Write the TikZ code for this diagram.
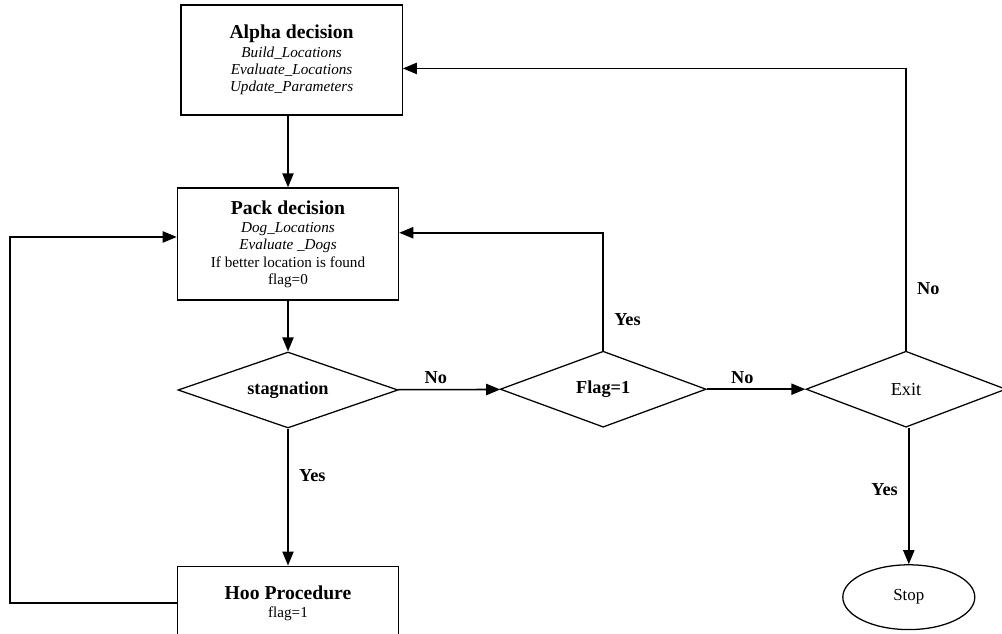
\documentclass[tikz,border=0pt]{standalone}
\usepackage{fontspec}
\setmainfont{Liberation Serif}
\usepackage{tikz}
\usetikzlibrary{shapes.geometric, arrows.meta, positioning, calc}

\begin{document}
\begin{tikzpicture}[
  box/.style={draw, line width=0.9pt, minimum width=5.53cm, minimum height=2.75cm, align=center, font=\fontsize{10.8}{12.2}\selectfont},
  dec/.style={draw, line width=0.9pt, diamond, aspect=3, inner sep=0pt, minimum width=5.5cm, minimum height=1.9cm, font=\fontsize{13}{15}\selectfont\bfseries},
  flow/.style={line width=1.1pt, -{Triangle[length=10pt, width=8pt]}},
  lbl/.style={font=\fontsize{13}{15}\selectfont\bfseries},
]
  \clip (0,0) rectangle (25.05,-15.85);

  \node[box] (alpha) at (7.29,-1.5) {{\fontsize{14}{16}\selectfont\bfseries Alpha decision}\\[1pt]
    \textit{Build\_Locations}\\ \textit{Evaluate\_Locations}\\ \textit{Update\_Parameters}};
  \node[box, minimum height=2.8cm] (pack) at (7.2,-6.1) {{\fontsize{14}{16}\selectfont\bfseries Pack decision}\\[1pt]
    \textit{Dog\_Locations}\\ \textit{Evaluate \_Dogs}\\ If better location is found\\ flag=0};

  \node[dec] (stag) at (7.2,-9.75) {stagnation};
  \node[dec, minimum width=5.15cm] (flag) at (15.08,-9.73) {Flag=1};
  \node[dec, minimum width=5.0cm, font=\fontsize{13}{15}\selectfont] (exit) at (22.65,-9.73) {Exit};

  \node[box, minimum height=1.85cm] (hoo) at (7.2,-15.08) {{\fontsize{14}{16}\selectfont\bfseries Hoo Procedure}\\[1pt] flag=1};
  \node[draw, line width=0.9pt, ellipse, minimum width=3.3cm, minimum height=1.62cm, font=\fontsize{12}{14}\selectfont] (stop) at (22.72,-14.93) {Stop};

  \coordinate (lft) at (0.25,-15.08);

  \draw[flow] (alpha.south -| pack.north) -- (pack);
  \draw[flow] (pack) -- (stag);
  \draw[flow] (stag) -- (flag) node[lbl, pos=0.37, above] {No};
  \draw[flow] (flag) -- (exit) node[lbl, pos=0.36, above] {No};
  \draw[flow] (stag) -- (hoo) node[lbl, pos=0.34, right=4pt] {Yes};
  \draw[flow] (exit.south -| stop.north) -- (stop) node[lbl, pos=0.45, left=4pt] {Yes};
  \draw[flow] (flag.north) |- ([yshift=8pt]pack.east) node[lbl, pos=0.13, right=4pt] {Yes};
  \draw[flow] (exit.north) |- ([yshift=-6pt]alpha.east) node[lbl, pos=0.11, right=4pt] {No};
  \draw[flow] (hoo.west) -- (lft) |- ([yshift=5pt]pack.west);
\end{tikzpicture}
\end{document}
